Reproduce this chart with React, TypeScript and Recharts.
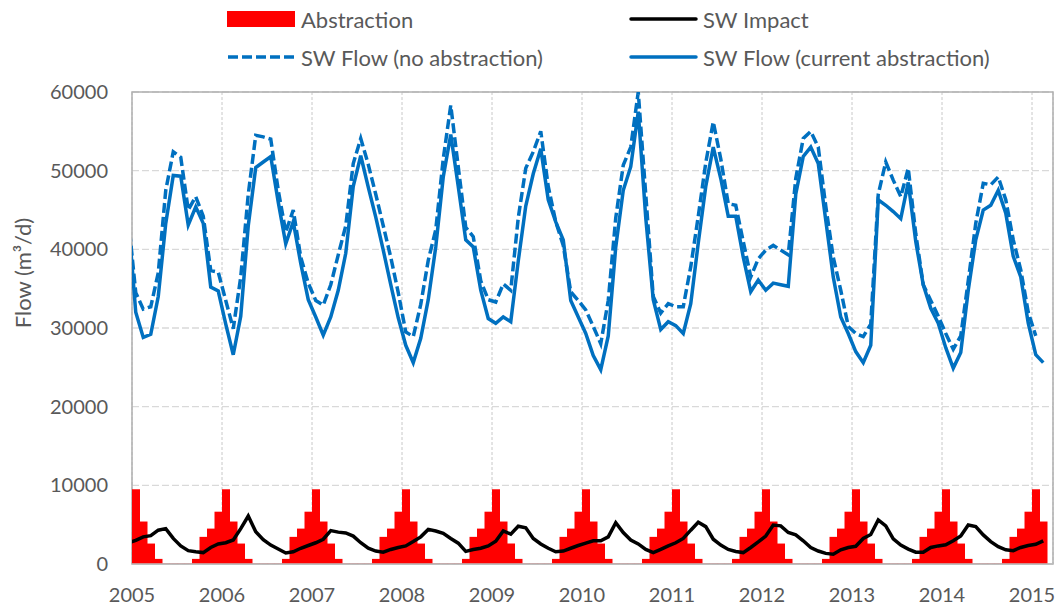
import { ComposedChart, Bar, Line, XAxis, YAxis, CartesianGrid, ReferenceArea } from 'recharts'

// monthly series, first entry is Dec 2004 (only partly inside the plot, clipped)
const startYear = 2004
const startMonth = 12

const yearTicks = [2005, 2006, 2007, 2008, 2009, 2010, 2011, 2012, 2013, 2014, 2015]
const flowTicks = [0, 10000, 20000, 30000, 40000, 50000, 60000]

const abstraction = [
  6650,
  9500, 5400, 2600, 650, 50, 50, 50, 50, 650, 3450, 4500, 6650, // 2005
  9500, 5400, 2600, 650, 50, 50, 50, 50, 650, 3450, 4500, 6650, // 2006
  9500, 5400, 2600, 650, 50, 50, 50, 50, 650, 3450, 4500, 6650, // 2007
  9500, 5400, 2600, 650, 50, 50, 50, 50, 650, 3450, 4500, 6650, // 2008
  9500, 5400, 2600, 650, 50, 50, 50, 50, 650, 3450, 4500, 6650, // 2009
  9500, 5400, 2600, 650, 50, 50, 50, 50, 650, 3450, 4500, 6650, // 2010
  9500, 5400, 2600, 650, 50, 50, 50, 50, 650, 3450, 4500, 6650, // 2011
  9500, 5400, 2600, 650, 50, 50, 50, 50, 650, 3450, 4500, 6650, // 2012
  9500, 5400, 2600, 650, 50, 50, 50, 50, 650, 3450, 4500, 6650, // 2013
  9500, 5400, 2600, 650, 50, 50, 50, 50, 650, 3450, 4500, 6650, // 2014
  9500, 5400 // 2015
]

const swImpact = [
  2700,
  3000, 3450, 3600, 4300, 4500, 3250, 2300, 1700, 1550, 1450, 2100, 2550,
  2700, 3050, 4500, 6100, 4100, 3100, 2400, 1900, 1400, 1550, 2000, 2350,
  2700, 3150, 4250, 4050, 3950, 3550, 2700, 2000, 1650, 1500, 1850, 2100,
  2300, 2850, 3450, 4400, 4200, 3900, 3250, 2650, 1600, 1850, 2000, 2300,
  2900, 4200, 3800, 4800, 4600, 3250, 2550, 2000, 1550, 1650, 2000, 2350,
  2650, 2950, 2950, 3450, 5250, 4000, 3050, 2550, 1850, 1450, 1850, 2300,
  2700, 3250, 4300, 5300, 4750, 3150, 2400, 1850, 1600, 1450, 2100, 2800,
  3550, 4950, 4850, 4000, 3700, 2950, 2100, 1650, 1350, 1250, 1800, 2100,
  2250, 3250, 3750, 5600, 4850, 3200, 2400, 1900, 1500, 1500, 2100, 2300,
  2450, 2950, 3550, 4950, 4750, 3700, 2850, 2200, 1800, 1700, 2100, 2350,
  2500, 2950
]

const flowNoAbstraction = [
  44000,
  34500, 32400, 32700, 37000, 47500, 52400, 51700, 45000, 46700, 44200, 37300, 37100,
  33500, 29900, 36500, 47000, 54500, 54300, 54000, 47500, 42200, 45000, 39000, 35700,
  33500, 32900, 35500, 39300, 43000, 50900, 54100, 50800, 47000, 43000, 39000, 34500,
  29500, 28900, 33000, 38600, 42500, 51500, 58300, 50500, 42800, 41600, 36000, 33600,
  33300, 35600, 34800, 44000, 50300, 52400, 55000, 48000, 43500, 40500, 34600, 33500,
  32300, 30200, 28000, 33500, 44000, 50700, 53000, 60000, 47000, 34000, 31900, 33100,
  32700, 32700, 37800, 44200, 51000, 56200, 51500, 45800, 45600, 41000, 36500, 38800,
  39900, 40500, 39900, 39300, 49000, 54100, 55000, 53000, 45500, 39000, 34800, 30200,
  29300, 28900, 30500, 47000, 51100, 48800, 46700, 50300, 42000, 35500, 33500, 31500,
  29300, 27300, 29000, 36000, 43300, 48400, 48200, 49200, 46300, 41200, 37400, 32000,
  29000, null
]

const flowCurrent = [
  44000,
  32000, 28800, 29200, 34000, 43300, 49400, 49300, 43100, 45400, 43300, 35200, 34700,
  30500, 26600, 31500, 43000, 50400, 51100, 51800, 46000, 40700, 43500, 38200, 33600,
  31400, 29100, 31400, 34800, 39500, 48000, 51900, 47900, 44100, 39900, 35500, 31300,
  27800, 25600, 28700, 33600, 40300, 49200, 54600, 48000, 41200, 40300, 34800, 31200,
  30600, 31400, 30800, 38500, 45500, 49600, 52800, 46300, 43500, 41200, 33500, 31400,
  29300, 26500, 24700, 29000, 40300, 47500, 50500, 57500, 44000, 33600, 29800, 30800,
  30300, 29300, 33100, 40800, 48000, 53000, 49000, 44200, 44200, 39000, 34600, 36100,
  34800, 35700, 35500, 35300, 47000, 51800, 53000, 50900, 43700, 36500, 31400, 29300,
  27000, 25600, 27800, 46300, 45600, 44800, 43900, 48500, 41000, 35500, 32500, 30600,
  27500, 24900, 26900, 34800, 41200, 45000, 45600, 47500, 44600, 39100, 36500, 30600,
  26600, 25600
]

// points sit mid-month on a decimal-year axis
const data = abstraction.map((a, i) => {
  const m = startMonth - 1 + i
  const year = startYear + Math.floor(m / 12)
  return {
    t: year + ((m % 12) + 0.5) / 12,
    abstraction: a,
    impact: swImpact[i],
    noAbs: flowNoAbstraction[i],
    current: flowCurrent[i]
  }
})

const xMax = 2015.2333
const textColor = '#595959'
const blue = '#0070C0'
const font = 'Lato, sans-serif'

function FlowLabel(props: any) {
  const { viewBox } = props
  const cx = 22
  const cy = viewBox ? viewBox.y + viewBox.height / 2 - 55 : 273
  return (
    <text x={cx} y={cy} transform={`rotate(-90 ${cx} ${cy})`} textAnchor="middle" dominantBaseline="central"
      fill={textColor} fontSize={22} fontFamily={font}>
      Flow (m³/d)
    </text>
  )
}

function LegendItem({ x, y, kind, label }: { x: number; y: number; kind: string; label: string }) {
  return (
    <div style={{ position: 'absolute', left: x, top: y, display: 'flex', alignItems: 'center', height: 24 }}>
      <svg width={70} height={24} style={{ display: 'block' }}>
        {kind === 'bar' && <rect x={0} y={4} width={68} height={16} fill="#FF0000" />}
        {kind === 'black' && <line x1={2} y1={12} x2={67} y2={12} stroke="#000" strokeWidth={3.5} strokeLinecap="round" />}
        {kind === 'solid' && <line x1={2} y1={12} x2={67} y2={12} stroke={blue} strokeWidth={3.5} strokeLinecap="round" />}
        {kind === 'dashed' && <line x1={1} y1={12} x2={68} y2={12} stroke={blue} strokeWidth={3.5} strokeDasharray="10 4" />}
      </svg>
      <span style={{ marginLeft: 4, fontFamily: font, fontSize: 22, color: textColor, whiteSpace: 'nowrap' }}>{label}</span>
    </div>
  )
}

export default function App() {
  return (
    <div style={{ position: 'absolute', left: 0, top: 0, width: 1061, height: 607, background: '#fff' }}>
      <ComposedChart
        width={1061}
        height={607}
        data={data}
        margin={{ top: 92, right: 8, bottom: 13, left: 0 }}
        barCategoryGap={0}
        barGap={0}
      >
        <CartesianGrid horizontal={true} vertical={false} stroke="#d9d9d9" strokeDasharray="7 3" strokeWidth={1.3} />
        <CartesianGrid horizontal={false} vertical={true} stroke="#c8c8c8" strokeDasharray="3 2" />
        <XAxis
          type="number"
          dataKey="t"
          domain={[2005, xMax]}
          allowDataOverflow
          ticks={yearTicks}
          interval={0}
          tickLine={false}
          tickSize={0}
          tickMargin={24}
          height={30}
          axisLine={{ stroke: '#bfbfbf', strokeWidth: 1.5 }}
          tick={{ fill: textColor, fontSize: 20, fontFamily: font }}
        />
        <YAxis
          type="number"
          domain={[0, 60000]}
          allowDataOverflow
          ticks={flowTicks}
          interval={0}
          width={132}
          tickLine={false}
          tickSize={0}
          tickMargin={24}
          axisLine={false}
          tick={{ fill: textColor, fontSize: 20, fontFamily: font }}
          label={<FlowLabel />}
        />
        <Bar dataKey="abstraction" fill="#FF0000" isAnimationActive={false} />
        <Line dataKey="impact" stroke="#000000" strokeWidth={3.5} dot={false} isAnimationActive={false} />
        <Line dataKey="noAbs" stroke={blue} strokeWidth={3.5} strokeDasharray="10 4" dot={false} isAnimationActive={false} />
        <Line dataKey="current" stroke={blue} strokeWidth={3.5} dot={false} isAnimationActive={false} />
        <ReferenceArea x1={2005} x2={xMax} y1={0} y2={60000} fill="none" stroke="#b0b0b0" strokeWidth={1.5} ifOverflow="visible" />
      </ComposedChart>
      <LegendItem x={227} y={7} kind="bar" label="Abstraction" />
      <LegendItem x={629} y={7} kind="black" label="SW Impact" />
      <LegendItem x={227} y={45} kind="dashed" label="SW Flow (no abstraction)" />
      <LegendItem x={629} y={45} kind="solid" label="SW Flow (current abstraction)" />
    </div>
  )
}
